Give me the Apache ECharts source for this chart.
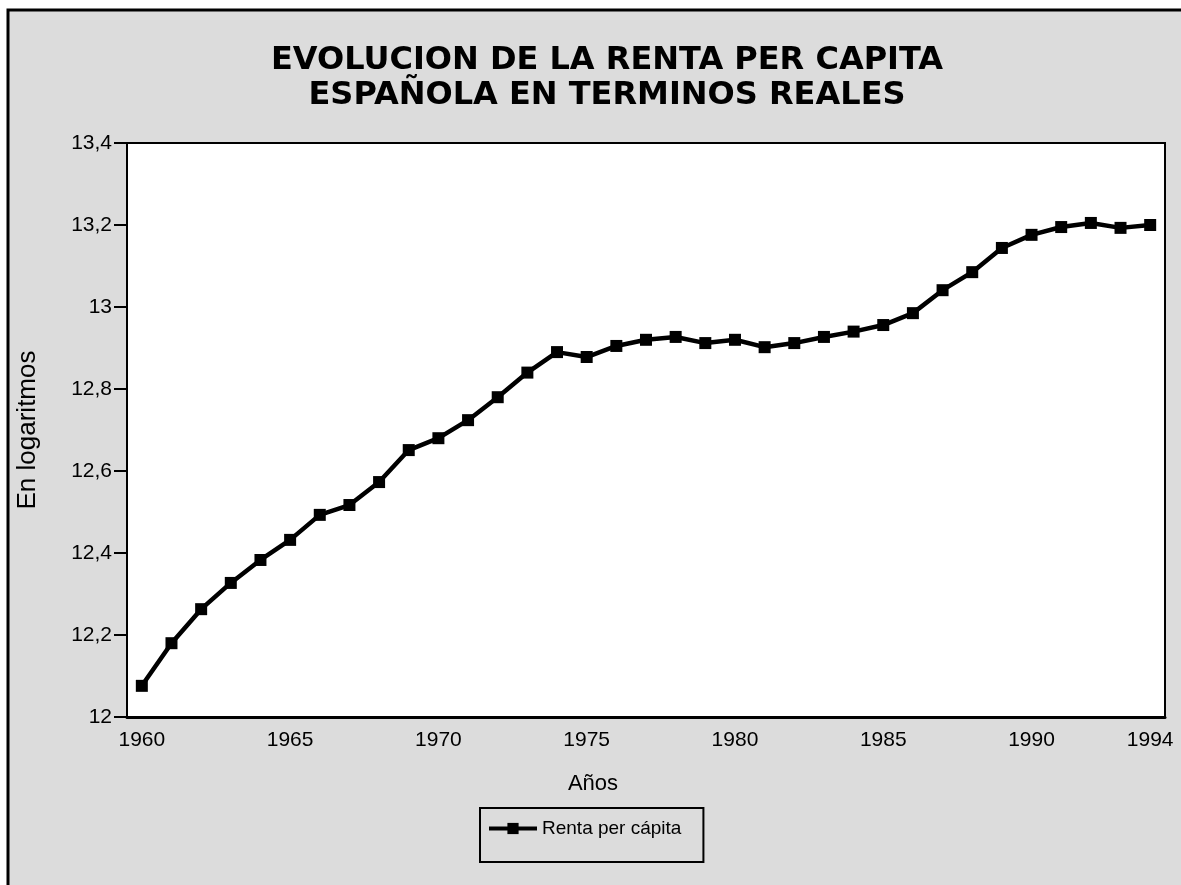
<!DOCTYPE html>
<html>
<head>
<meta charset="utf-8">
<script src="https://cdn.jsdelivr.net/npm/echarts@6/dist/echarts.min.js"></script>
<style>
  html, body { margin: 0; padding: 0; background: #fff; }
  #chart { width: 1181px; height: 885px; }
</style>
</head>
<body>
<div id="chart"></div>
<script>
const years = [
  '1960', '1961', '1962', '1963', '1964', '1965', '1966', '1967', '1968', '1969',
  '1970', '1971', '1972', '1973', '1974', '1975', '1976', '1977', '1978', '1979',
  '1980', '1981', '1982', '1983', '1984', '1985', '1986', '1987', '1988', '1989',
  '1990', '1991', '1992', '1993', '1994',
];
// renta per capita, en logaritmos
const renta = [
  12.076, 12.18, 12.263, 12.327, 12.383, 12.432, 12.493, 12.517, 12.573, 12.651,
  12.68, 12.724, 12.78, 12.84, 12.89, 12.878, 12.905, 12.92, 12.927, 12.912,
  12.92, 12.902, 12.912, 12.927, 12.94, 12.956, 12.985, 13.041, 13.085, 13.144,
  13.176, 13.195, 13.205, 13.193, 13.2,
];
const yTicks = [12, 12.2, 12.4, 12.6, 12.8, 13, 13.2, 13.4];

const font = '"Liberation Sans", Arial, sans-serif';
const chart = echarts.init(document.getElementById('chart'));

const option = {
  backgroundColor: '#fff',
  animation: false,
  graphic: [
    {
      type: 'rect',
      z: -10,
      shape: { x: 8, y: 10, width: 1200, height: 900 },
      style: { fill: '#dcdcdc', stroke: '#000', lineWidth: 3 },
    },
  ],
  title: [
    {
      text: 'EVOLUCION DE LA RENTA PER CAPITA\nESPAÑOLA EN TERMINOS REALES',
      left: 602,
      top: 38,
      textAlign: 'center',
      textStyle: {
        fontFamily: '"DejaVu Sans", sans-serif',
        fontSize: 32,
        fontWeight: 'bold',
        color: '#000',
        lineHeight: 35,
      },
    },
    {
      text: 'Años',
      left: 588,
      top: 768,
      textAlign: 'center',
      textStyle: { fontFamily: font, fontSize: 22, fontWeight: 'normal', color: '#000' },
    },
  ],
  legend: {
    left: 480,
    top: 808,
    orient: 'vertical',
    padding: [11, 22, 24, 7],
    itemWidth: 48,
    itemHeight: 14,
    borderColor: '#000',
    borderWidth: 2,
    backgroundColor: '#dcdcdc',
    lineStyle: { width: 4 },
    textStyle: { fontFamily: font, fontSize: 19, color: '#000' },
    data: ['Renta per cápita'],
  },
  grid: {
    show: true,
    z: 2,
    left: 127,
    top: 143,
    right: 16,
    bottom: 168,
    backgroundColor: '#fff',
    borderColor: '#000',
    borderWidth: 2,
  },
  xAxis: {
    type: 'category',
    data: years,
    boundaryGap: true,
    axisLine: { lineStyle: { color: '#000', width: 3 } },
    axisTick: {
      alignWithLabel: true,
      interval: 0,
      length: 9,
      lineStyle: { color: '#000', width: 2 },
    },
    axisLabel: {
      interval: (index) => index % 5 === 0 || index === years.length - 1,
      fontFamily: font,
      fontSize: 21,
      color: '#000',
      margin: 13,
    },
  },
  yAxis: {
    type: 'value',
    min: yTicks[0],
    max: yTicks[yTicks.length - 1],
    interval: 0.2,
    name: 'En logaritmos',
    nameLocation: 'middle',
    nameGap: 86,
    nameTextStyle: { fontFamily: font, fontSize: 26, color: '#000' },
    axisLine: { show: true, lineStyle: { color: '#000', width: 2 } },
    axisTick: { show: true, length: 13, lineStyle: { color: '#000', width: 2 } },
    axisLabel: {
      fontFamily: font,
      fontSize: 21,
      color: '#000',
      margin: 15,
      formatter: (value) => {
        const v = Math.round(value * 10) / 10;
        return Number.isInteger(v) ? String(v) : v.toFixed(1).replace('.', ',');
      },
    },
    splitLine: {
      show: true,
      lineStyle: { color: '#000', width: 1.5, type: [4, 3] },
    },
  },
  series: [
    {
      name: 'Renta per cápita',
      type: 'line',
      data: renta,
      symbol: 'rect',
      symbolSize: 12,
      itemStyle: { color: '#000' },
      lineStyle: { color: '#000', width: 4.5 },
      z: 5,
    },
  ],
};

chart.setOption(option);
</script>
</body>
</html>
